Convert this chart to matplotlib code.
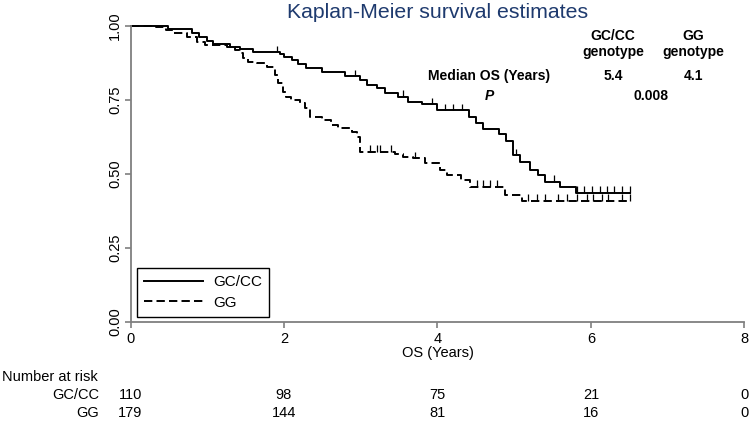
import numpy as np
import matplotlib
matplotlib.use("Agg")
import matplotlib.pyplot as plt
import matplotlib.transforms as mtransforms

plt.rcParams['font.family'] = ['Liberation Sans', 'DejaVu Sans']
plt.rcParams['lines.scale_dashes'] = False

# GC/CC genotype: event times (years) and survival after each drop
gc_times = [0.489, 0.797, 0.893, 0.993, 1.075, 1.296, 1.427, 1.596, 1.948, 2.000,
            2.100, 2.186, 2.287, 2.491, 2.795, 2.990, 3.078, 3.208, 3.316, 3.485,
            3.616, 3.798, 3.993, 4.410, 4.498, 4.593, 4.801, 4.893, 4.984, 5.075,
            5.205, 5.305, 5.401, 5.596, 5.801]
gc_surv = [0.990, 0.975, 0.963, 0.950, 0.938, 0.930, 0.922, 0.911, 0.905, 0.896,
           0.885, 0.872, 0.857, 0.846, 0.831, 0.818, 0.801, 0.790, 0.773, 0.761,
           0.744, 0.735, 0.716, 0.694, 0.671, 0.651, 0.634, 0.611, 0.564, 0.542,
           0.514, 0.497, 0.474, 0.457, 0.437]
gc_censor = [1.909, 2.925, 3.55, 3.924, 4.098, 4.198, 4.319, 5.02, 5.52,
             5.818, 5.915, 6.013, 6.111, 6.208, 6.306, 6.404, 6.502]
gc_end = 6.508

# GG genotype
gg_times = [0.332, 0.463, 0.554, 0.732, 0.863, 0.971, 1.253, 1.362, 1.427, 1.470,
            1.535, 1.644, 1.775, 1.883, 1.922, 1.991, 2.026, 2.091, 2.208, 2.274,
            2.345, 2.491, 2.612, 2.704, 2.882, 2.951, 2.990, 3.446, 3.554, 3.685,
            3.837, 4.033, 4.130, 4.306, 4.423, 4.879, 5.101]
gg_surv = [0.995, 0.986, 0.975, 0.964, 0.947, 0.936, 0.930, 0.919, 0.910, 0.891,
           0.879, 0.874, 0.863, 0.834, 0.806, 0.778, 0.760, 0.750, 0.739, 0.722,
           0.694, 0.682, 0.666, 0.654, 0.643, 0.626, 0.575, 0.568, 0.558, 0.553,
           0.536, 0.514, 0.497, 0.480, 0.457, 0.429, 0.409]
gg_censor = [3.126, 3.217, 3.257, 3.388, 3.707, 4.511, 4.593, 4.684, 4.771, 5.179,
             5.293, 5.401, 5.570, 5.683, 5.814, 5.944, 6.026, 6.139, 6.225, 6.400, 6.505]
gg_end = 6.508

risk_times = [0, 2, 4, 6, 8]
risk_gc = [110, 98, 75, 21, 0]
risk_gg = [179, 144, 81, 16, 0]

fig = plt.figure(figsize=(7.5, 4.21), dpi=100)
ax = fig.add_axes([130.5 / 750, 99 / 421, 614 / 750, 296 / 421])

def km_path(times, surv, end):
    x = np.concatenate([[0.0], times, [end]])
    y = np.concatenate([[1.0], surv, [surv[-1]]])
    return x, y

def surv_at(times, surv, t):
    idx = np.searchsorted(times, t, side='right')
    full = np.concatenate([[1.0], surv])
    return full[idx]

axis_grey = '#7f7f7f'
lw = 1.4
for times, surv, end, cens, ls, lab in [
        (gc_times, gc_surv, gc_end, gc_censor, '-', 'GC/CC'),
        (gg_times, gg_surv, gg_end, gg_censor, '--', 'GG')]:
    x, y = km_path(times, surv, end)
    if ls == '-':
        ax.step(x, y, where='post', color='black', lw=lw, label=lab, clip_on=False)
    else:
        ax.step(x, y, where='post', color='black', lw=lw, linestyle=(0, (6, 3)),
                label=lab, clip_on=False)
    sc = np.array([surv_at(times, surv, c) for c in cens])
    ax.vlines(cens, sc, sc + 0.022, color='black', lw=0.9, clip_on=False)

ax.set_xlim(0, 8)
ax.set_ylim(0, 1)
ax.set_xticks([0, 2, 4, 6, 8])
ax.set_yticks([0, 0.25, 0.5, 0.75, 1.0])
ax.set_yticklabels(['0.00', '0.25', '0.50', '0.75', '1.00'], rotation=90, va='center')
ax.tick_params(axis='both', colors=axis_grey, labelcolor='black', labelsize=10.5,
               length=4, width=1.2, direction='out', pad=2)
ax.tick_params(axis='x', pad=3)
for s in ['top', 'right']:
    ax.spines[s].set_visible(False)
for s in ['left', 'bottom']:
    ax.spines[s].set_color(axis_grey)
    ax.spines[s].set_linewidth(1.3)

ax.set_xlabel('OS (Years)', fontsize=10.5, labelpad=0)

fig.text(438 / 750, 1 - 13 / 421, 'Kaplan-Meier survival estimates', ha='center',
         va='center', fontsize=15.3, color='#1e3a6e')

leg = ax.legend(loc='lower left', bbox_to_anchor=(6.2 / 614, 5.3 / 296),
                borderaxespad=0, fontsize=11, handlelength=3.9, handletextpad=0.65,
                labelspacing=0.45, borderpad=0.45, fancybox=False, framealpha=1,
                edgecolor='black')
leg.get_frame().set_linewidth(1.0)

# summary table in upper right
bold = dict(fontsize=10, fontweight='bold', ha='center', va='center')
fig.text(613 / 750, 1 - 44 / 421, 'GC/CC\ngenotype', linespacing=1.1, **bold)
fig.text(693 / 750, 1 - 44 / 421, 'GG\ngenotype', linespacing=1.1, **bold)
fig.text(489 / 750, 1 - 76 / 421, 'Median OS (Years)', **bold)
fig.text(613 / 750, 1 - 76 / 421, '5.4', **bold)
fig.text(693 / 750, 1 - 76 / 421, '4.1', **bold)
fig.text(489 / 750, 1 - 96 / 421, 'P', style='italic', **bold)
fig.text(651 / 750, 1 - 96 / 421, '0.008', **bold)

# number at risk table
trans = mtransforms.blended_transform_factory(ax.transData, fig.transFigure)
fig.text(2 / 750, 1 - 377 / 421, 'Number at risk', fontsize=10.5, va='center')
fig.text(99 / 750, 1 - 395 / 421, 'GC/CC', fontsize=10.5, va='center', ha='right')
fig.text(99 / 750, 1 - 413 / 421, 'GG', fontsize=10.5, va='center', ha='right')
for t, a, b in zip(risk_times, risk_gc, risk_gg):
    ax.text(t, 1 - 395 / 421, str(a), transform=trans, ha='center', va='center',
            fontsize=10.5, clip_on=False)
    ax.text(t, 1 - 413 / 421, str(b), transform=trans, ha='center', va='center',
            fontsize=10.5, clip_on=False)

fig.savefig('out.png', dpi=100)
